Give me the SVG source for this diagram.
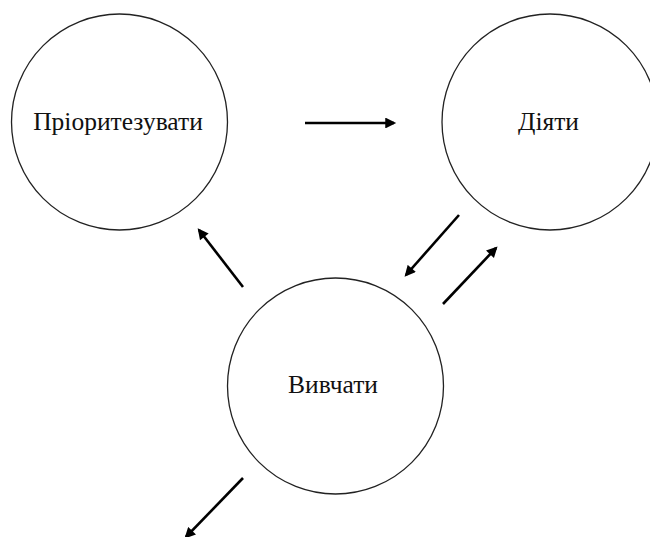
<svg xmlns="http://www.w3.org/2000/svg" width="650" height="537" viewBox="0 0 650 537">
<style>
.node{fill:#fff;stroke:#222;stroke-width:1.3}
.lbl{font-family:"Liberation Serif","Times New Roman",serif;font-size:25.5px;fill:#111;text-anchor:middle}
.conn{stroke:#000;stroke-width:2.6;fill:none;marker-end:url(#ah)}
</style>
<defs>
<marker id="ah" viewBox="0 0 10 10" refX="8" refY="5" markerWidth="4.8" markerHeight="4.2" orient="auto" markerUnits="strokeWidth">
<path d="M0,0 L10,5 L0,10 z" fill="#000"/>
</marker>
</defs>
<rect width="650" height="537" fill="#fff"/>
<g id="node-prioritize">
<circle class="node" cx="119.5" cy="122" r="108"/>
<text class="lbl" x="118" y="130">Пріоритезувати</text>
</g>
<g id="node-act">
<circle class="node" cx="550" cy="122" r="108"/>
<text class="lbl" x="548.5" y="130">Діяти</text>
</g>
<g id="node-learn">
<circle class="node" cx="335.5" cy="386" r="108"/>
<text class="lbl" x="333" y="393">Вивчати</text>
</g>
<g id="connectors">
<line class="conn" x1="305" y1="123" x2="394" y2="123"/>
<line class="conn" x1="243" y1="287" x2="199" y2="230"/>
<line class="conn" x1="459" y1="215" x2="406" y2="275"/>
<line class="conn" x1="443" y1="304" x2="496" y2="248"/>
<line class="conn" x1="243" y1="478" x2="186" y2="537"/>
</g>
</svg>
